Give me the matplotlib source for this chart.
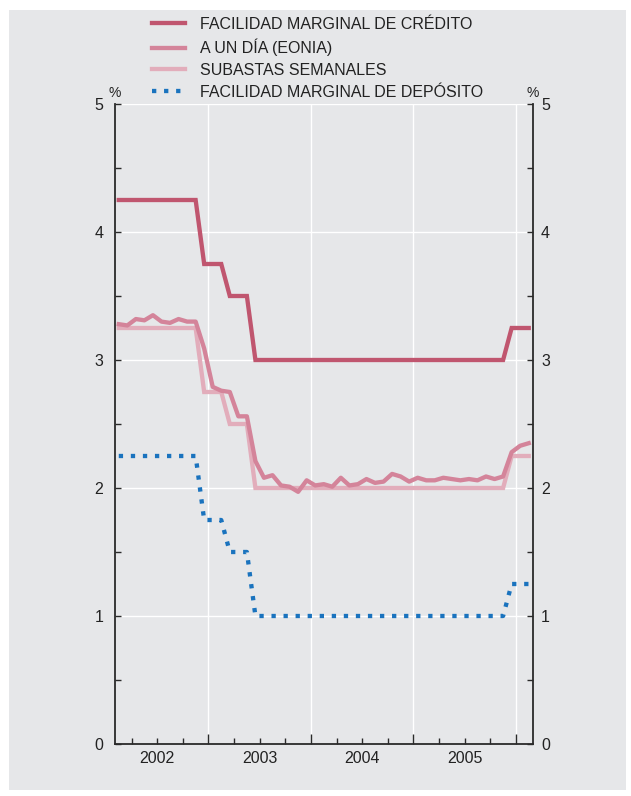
import matplotlib
matplotlib.use("Agg")
import matplotlib.pyplot as plt
from matplotlib.patches import Rectangle
from matplotlib.ticker import MultipleLocator, FixedLocator, NullFormatter, FormatStrFormatter
from matplotlib.transforms import ScaledTranslation
import numpy as np

plt.rcParams['font.family'] = ['Liberation Sans', 'DejaVu Sans']

# Monthly data, Feb 2002 .. Feb 2006 (plotted at mid-month)
start_year, start_month, n_months = 2002, 2, 49

credito = [4.25]*10 + [3.75]*3 + [3.50]*3 + [3.00]*30 + [3.25]*3
subastas = [3.25]*10 + [2.75]*3 + [2.50]*3 + [2.00]*30 + [2.25]*3
deposito = [2.25]*10 + [1.75]*3 + [1.50]*3 + [1.00]*30 + [1.25]*3
eonia = [3.28, 3.27, 3.32, 3.31, 3.35, 3.30, 3.29, 3.32, 3.30, 3.30, 3.09,
         2.79, 2.76, 2.75, 2.56, 2.56, 2.21, 2.08, 2.10, 2.02, 2.01, 1.97, 2.06,
         2.02, 2.03, 2.01, 2.08, 2.02, 2.03, 2.07, 2.04, 2.05, 2.11, 2.09, 2.05,
         2.08, 2.06, 2.06, 2.08, 2.07, 2.06, 2.07, 2.06, 2.09, 2.07, 2.09, 2.28,
         2.33, 2.35]

labels = ["FACILIDAD MARGINAL DE CRÉDITO", "A UN DÍA (EONIA)",
          "SUBASTAS SEMANALES", "FACILIDAD MARGINAL DE DEPÓSITO"]
year_labels = ["2002", "2003", "2004", "2005"]

months = np.arange(n_months)
x = start_year + (start_month - 1 + months + 0.5) / 12.0

W, H = 631, 796
fig = plt.figure(figsize=(W/100, H/100), dpi=100)
fig.patch.set_facecolor('white')
bg = '#e6e7e9'
fig.add_artist(Rectangle((9/W, 6/H), (626-9)/W, (786-6)/H, transform=fig.transFigure,
                         facecolor=bg, edgecolor='none', zorder=0))

ax = fig.add_axes([114.5/W, 1-744/H, (533-114.5)/W, (744-104)/H])
ax.set_facecolor(bg)

c_cred = '#c0566f'
c_eon = '#d4849a'
c_sub = '#e2adbb'
c_dep = '#1a73be'
lw = 3.1

l4, = ax.plot(x, deposito, color=c_dep, lw=lw, linestyle=(0, (1, 1.8)),
              dash_capstyle='butt', zorder=3)
l3, = ax.plot(x, subastas, color=c_sub, lw=lw, zorder=4, solid_joinstyle='miter')
l2, = ax.plot(x, eonia, color=c_eon, lw=lw, zorder=5)
l1, = ax.plot(x, credito, color=c_cred, lw=lw, zorder=6, solid_joinstyle='miter')

ax.set_xlim(2002 + 1/12, 2006 + 2/12)
ax.set_ylim(0, 5)

# grid
for yv in [1, 2, 3, 4, 5]:
    ax.axhline(yv, color='white', lw=1.0, zorder=1)
for xv in [2003, 2004, 2005, 2006]:
    ax.axvline(xv, color='white', lw=1.0, zorder=1)

spine_c = '#2a2a2a'
for s in ['left', 'right', 'bottom']:
    ax.spines[s].set_color(spine_c)
    ax.spines[s].set_linewidth(1.3)
ax.spines['top'].set_visible(False)

tfs = 11.5
ax.yaxis.set_major_locator(MultipleLocator(1))
ax.yaxis.set_minor_locator(MultipleLocator(0.5))
ax.yaxis.set_major_formatter(FormatStrFormatter('%d'))
ax.tick_params(axis='y', which='both', direction='in', length=4, width=1,
               color=spine_c, left=True, right=True, labelleft=True, labelright=True,
               labelsize=tfs, labelcolor='#222222', pad=8)
off = ScaledTranslation(-3/100, 0, fig.dpi_scale_trans)
for t in ax.yaxis.get_major_ticks():
    t.label2.set_transform(t.label2.get_transform() + off)

ax.xaxis.set_major_locator(FixedLocator([2003, 2004, 2005, 2006]))
ax.xaxis.set_major_formatter(NullFormatter())
ax.xaxis.set_minor_locator(FixedLocator([2002.25, 2002.5, 2002.75, 2003.25, 2003.5, 2003.75,
                                         2004.25, 2004.5, 2004.75, 2005.25, 2005.5, 2005.75]))
ax.tick_params(axis='x', which='major', direction='in', length=7, width=1, color=spine_c)
ax.tick_params(axis='x', which='minor', direction='in', length=4, width=1, color=spine_c)

for i, yl in enumerate(year_labels):
    ax.annotate(yl, xy=(2002.5 + i, 0), xycoords=ax.get_xaxis_transform(),
                xytext=(0, -5), textcoords='offset points',
                ha='center', va='top', fontsize=tfs, color='#222222')

ax.text(0, 1.006, '%', transform=ax.transAxes, ha='center', va='bottom',
        fontsize=10, color='#222222')
ax.text(1, 1.006, '%', transform=ax.transAxes, ha='center', va='bottom',
        fontsize=10, color='#222222')

fs = 11.5
fig.legend([l1, l2, l3, l4], labels, loc='upper left',
           bbox_to_anchor=(152/W, 1 - 17/H), frameon=False, fontsize=fs,
           handlelength=2.06, handletextpad=0.94, labelspacing=0.42,
           borderpad=0, borderaxespad=0, labelcolor='#222222')

fig.savefig('out.png', dpi=100, facecolor=fig.get_facecolor())
